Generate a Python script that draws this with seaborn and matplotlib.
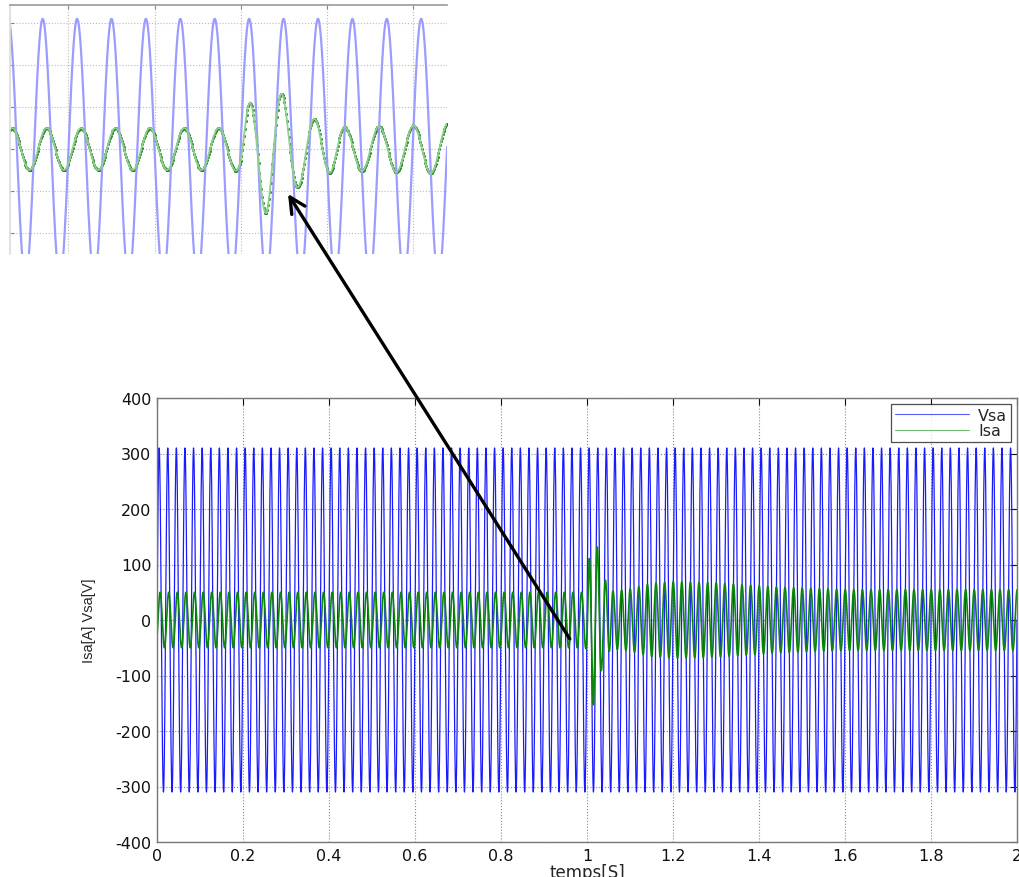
import numpy as np
import pandas as pd
import matplotlib
matplotlib.use("Agg")
import matplotlib.pyplot as plt
import seaborn as sns
from matplotlib.patches import ConnectionPatch

# ---------------- data ----------------
FREQ_HZ = 50            # supply frequency
VSA_PEAK = 310          # Vsa amplitude [V]
T_END = 2.0             # simulation length [s]
FS = 20000              # samples per second

# Isa amplitude envelope (keyframes), incl. the transient at t = 1 s
isa_env_t = [0.0, 0.990, 0.999, 1.0054, 1.0151, 1.0249, 1.0336, 1.0433, 1.051, 1.0608,
             1.10, 1.15, 1.20, 1.30, 1.45, 1.60, 2.0]
isa_env_amp = [50, 50, 52, 112, 155, 129, 90, 71, 57, 52,
               56, 66, 69, 67, 59, 55, 55]
# Isa phase lag behind Vsa [s] (lags before the fault, leads after)
isa_lag_t = [0.0, 0.998, 1.004, 1.045, 1.060, 2.0]
isa_lag_s = [0.0023, 0.0023, 0.0, -0.002, -0.0045, -0.0045]

x_ticks = [0, 0.2, 0.4, 0.6, 0.8, 1.0, 1.2, 1.4, 1.6, 1.8, 2.0]
x_tick_labels = ["0", "0.2", "0.4", "0.6", "0.8", "1", "1.2", "1.4", "1.6", "1.8", "2"]
y_ticks = [-400, -300, -200, -100, 0, 100, 200, 300, 400]
inset_xticks = [0.90, 0.95, 1.00, 1.05, 1.10]
inset_yticks = [-200, -100, 0, 100, 200, 300]
inset_xlim = (0.866, 1.120)
inset_ylim = (-250, 343)

series_names = ["Vsa", "Isa"]
x_label = "temps[S]"
y_label = "Isa[A] Vsa[V]"

# ---------------- build signals ----------------
t = np.arange(0, T_END + 1 / FS, 1 / FS)
vsa = VSA_PEAK * np.sin(2 * np.pi * FREQ_HZ * t)
env = np.interp(t, isa_env_t, isa_env_amp)
lag = np.interp(t, isa_lag_t, isa_lag_s)
isa = env * np.sin(2 * np.pi * FREQ_HZ * (t - lag))

df = pd.DataFrame({"t": t, "Vsa": vsa, "Isa": isa})

# ---------------- style ----------------
sns.set_theme(style="white")
plt.rcParams["font.family"] = ["DejaVu Sans"]
plt.rcParams["axes.unicode_minus"] = False

fig = plt.figure(figsize=(10.2, 8.78), dpi=100)
ax = fig.add_axes([157 / 1020, 1 - 843 / 878, 860 / 1020, 444 / 878])

sns.lineplot(data=df, x="t", y="Vsa", ax=ax, color="#1a1aff", lw=0.9,
             estimator=None, sort=False, errorbar=None, label=series_names[0])
sns.lineplot(data=df, x="t", y="Isa", ax=ax, color="#0c850c", lw=1.2,
             estimator=None, sort=False, errorbar=None, label=series_names[1])

ax.set_xlim(0, 2)
ax.set_ylim(-400, 400)
ax.set_xticks(x_ticks)
ax.set_xticklabels(x_tick_labels)
ax.set_yticks(y_ticks)
ax.set_yticklabels([str(v) for v in y_ticks])
ax.tick_params(direction="in", length=5, width=0.8, top=True, right=True,
               labelsize=11.5, colors="#111111", pad=4)
ax.grid(True, linestyle=":", color="#888888", lw=0.8)
for s in ax.spines.values():
    s.set_color("#777777")
    s.set_linewidth(1.0)
ax.set_xlabel(x_label, fontsize=12, labelpad=0)
ax.set_ylabel(y_label, fontsize=10.5, labelpad=14,
              fontfamily=["Liberation Sans", "DejaVu Sans"])

leg = ax.legend(loc="upper right", fontsize=11.5, frameon=True, fancybox=False,
                edgecolor="#222222", handlelength=4.6, borderaxespad=0.35,
                labelspacing=0.05, borderpad=0.25, handletextpad=0.6)
leg.get_frame().set_linewidth(0.9)
for h in leg.get_lines():
    h.set_linewidth(0.8)
leg.get_lines()[0].set_color("#5a5aff")
leg.get_lines()[1].set_color("#70bf70")

# ---------------- inset (zoom on the transient) ----------------
axin = fig.add_axes([10 / 1020, 1 - 255 / 878, 437 / 1020, 249 / 878])
win = df[(df.t >= inset_xlim[0] - 0.002) & (df.t <= inset_xlim[1] + 0.002)]
sns.lineplot(data=win, x="t", y="Vsa", ax=axin, color="#9c9cff", lw=1.6,
             estimator=None, sort=False, errorbar=None, legend=False)
sns.lineplot(data=win, x="t", y="Isa", ax=axin, color="#8fd08f", lw=1.3,
             estimator=None, sort=False, errorbar=None, legend=False)
dots = win.iloc[::10]
sns.scatterplot(data=dots, x="t", y="Isa", ax=axin, color="#1f7f1f", s=4,
                edgecolor=None, legend=False)
axin.set_xlim(*inset_xlim)
axin.set_ylim(*inset_ylim)
axin.set_xticks(inset_xticks)
axin.set_yticks(inset_yticks)
axin.set_xticklabels([])
axin.set_yticklabels([])
axin.set_xlabel("")
axin.set_ylabel("")
axin.tick_params(direction="in", length=3, width=0.8, colors="#888888",
                 top=True, bottom=False, left=True, right=False)
axin.grid(True, linestyle=":", color="#bbbbbb", lw=0.8)
axin.spines["top"].set_color("#999999")
axin.spines["top"].set_linewidth(1.2)
axin.spines["left"].set_color("#dddddd")
axin.spines["bottom"].set_visible(False)
axin.spines["right"].set_visible(False)

# ---------------- arrow from main plot to inset ----------------
arrow = ConnectionPatch(xyA=(0.960, -34), coordsA=ax.transData,
                        xyB=(1.0276, -107), coordsB=axin.transData,
                        arrowstyle="->", lw=2.4, color="black",
                        mutation_scale=28)
fig.add_artist(arrow)

fig.savefig("out.png", dpi=100)
